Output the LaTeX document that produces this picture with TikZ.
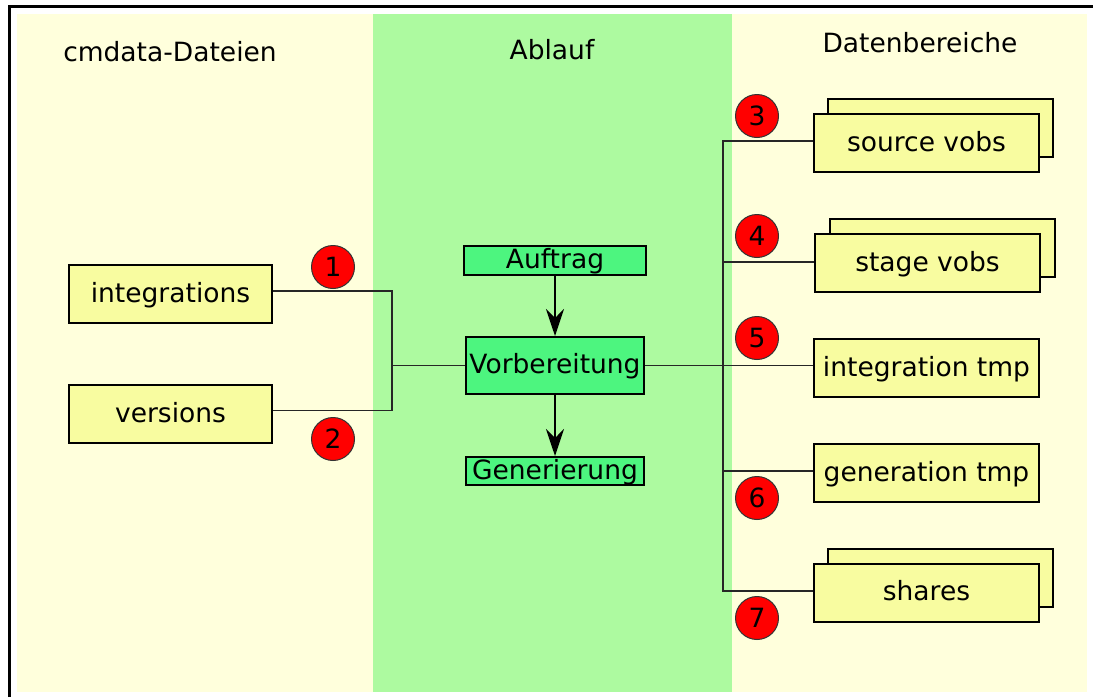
\documentclass[tikz,border=0pt]{standalone}
\usepackage{fontspec}
\setmainfont{DejaVu Sans}
\usetikzlibrary{arrows.meta}
\definecolor{panelyellow}{RGB}{255,255,220}
\definecolor{panelgreen}{RGB}{173,250,160}
\definecolor{boxyellow}{RGB}{248,252,160}
\definecolor{boxgreen}{RGB}{77,245,127}
\definecolor{marker}{RGB}{255,0,0}
\begin{document}
\begin{tikzpicture}[x=1pt,y=-1pt,
  font=\fontsize{26.5}{30}\selectfont,
  boxbase/.style={draw=black, line width=2pt, inner sep=0pt,
    text height=20pt, text depth=4pt, align=center},
  filebox/.style={boxbase, fill=boxyellow, minimum width=203pt, minimum height=58pt},
  areabox/.style={boxbase, fill=boxyellow, minimum width=225pt, minimum height=58pt},
  stepbox/.style={boxbase, fill=boxgreen, minimum width=178pt},
  marknum/.style={circle, draw=black!80, line width=1pt, fill=marker,
    minimum size=43pt, inner sep=0pt, text height=19pt, text depth=0pt},
  heading/.style={anchor=base, inner sep=0pt},
  link/.style={draw=black!85, line width=1.4pt},
  flow/.style={draw=black, line width=1.5pt,
    -{Stealth[length=27pt,width=18pt,inset=9pt]}}]

\useasboundingbox (0,0) rectangle (1093,697);

% background columns
\fill[panelyellow] (17,14) rectangle (373,692);
\fill[panelgreen]  (373,14) rectangle (732,692);
\fill[panelyellow] (732,14) rectangle (1087,692);

% outer frame
\draw[line width=2.7pt] (9.7,697) -- (9.7,6.2) -- (1093,6.2);

% column headings
\node[heading] (h1) at (170,61) {cmdata-Dateien};
\node[heading] (h2) at (552,59) {Ablauf};
\node[heading] (h3) at (920,52) {Datenbereiche};

% cmdata files
\node[filebox] (int) at (170.5,294) {integrations};
\node[filebox] (ver) at (170.5,414) {versions};

% process steps
\node[stepbox, minimum width=182pt, minimum height=29pt] (auf) at (555,260.5) {Auftrag};
\node[stepbox, minimum height=57pt] (vorb) at (555,365.5) {Vorbereitung};
\node[stepbox, minimum height=28pt] (gen) at (555,471) {Generierung};

% data areas (stacked ones have a shadow sheet behind)
\node[areabox] (srcback) at (940.5,128) {};
\node[areabox] (src) at (926.5,143) {source vobs};
\node[areabox] (stgback) at (942,248) {};
\node[areabox] (stg) at (927.5,263) {stage vobs};
\node[areabox] (itmp) at (926.5,368) {integration tmp};
\node[areabox] (gtmp) at (926.5,473) {generation tmp};
\node[areabox] (shrback) at (940.5,578) {};
\node[areabox] (shr) at (926.5,592.5) {shares};

% junction points
\coordinate (lj) at (392,365.5);
\coordinate (rj) at (723,365.5);

% connectors on the left
\draw[link] ([yshift=3pt]int.east) -- ([yshift=3pt]int.east -| lj)
  -- ([yshift=3.5pt]ver.east -| lj) -- ([yshift=3.5pt]ver.east);
\draw[link] (lj) -- (vorb.west);

% connectors on the right
\draw[link] (vorb.east) -- (vorb.east -| itmp.west);
\draw[link] ([yshift=2pt]src.west) -- ([yshift=2pt]src.west -| rj)
  -- ([yshift=1.5pt]shr.west -| rj) -- ([yshift=1.5pt]shr.west);
\draw[link] ([yshift=1pt]stg.west) -- ([yshift=1pt]stg.west -| rj);
\draw[link] ([yshift=2pt]gtmp.west) -- ([yshift=2pt]gtmp.west -| rj);

% flow arrows
\draw[flow] (auf) -- (vorb);
\draw[flow] (vorb) -- (gen);

% numbered markers
\node[marknum] (m1) at (333,267) {1};
\node[marknum] (m2) at (333,439) {2};
\node[marknum] (m3) at (757,116) {3};
\node[marknum] (m4) at (757,236) {4};
\node[marknum] (m5) at (757,338) {5};
\node[marknum] (m6) at (757,498) {6};
\node[marknum] (m7) at (757,618) {7};
\end{tikzpicture}
\end{document}
